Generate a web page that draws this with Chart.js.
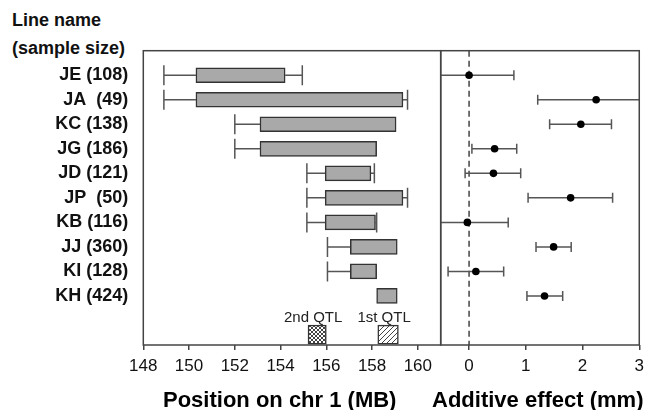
<!DOCTYPE html>
<html>
<head>
<meta charset="utf-8">
<script src="https://cdn.jsdelivr.net/npm/chart.js@4.4.0/dist/chart.umd.min.js"></script>
<style>
body{margin:0;background:#fff;}
#wrap{position:relative;width:650px;height:410px;overflow:hidden;font-family:"Liberation Sans",Arial,sans-serif;color:#111;}
.head{position:absolute;left:12px;font-weight:bold;font-size:18px;white-space:nowrap;}
.axtitle{position:absolute;top:387px;font-weight:bold;font-size:22px;white-space:nowrap;color:#000;}
canvas{position:absolute;top:0;}
</style>
</head>
<body>
<div id="wrap">
  <div class="head" style="top:10px">Line name</div>
  <div class="head" style="top:38px">(sample size)</div>
  <canvas id="posChart" width="442" height="410" style="left:0"></canvas>
  <canvas id="effChart" width="230" height="410" style="left:420px"></canvas>
  <div class="axtitle" style="left:163px">Position on chr 1 (MB)</div>
  <div class="axtitle" style="left:432px">Additive effect (mm)</div>
</div>
<script>
"use strict";

// 系統名 (サンプル数)
const lineNames = ['JE (108)', 'JA  (49)', 'KC (138)', 'JG (186)', 'JD (121)', 'JP  (50)', 'KB (116)', 'JJ (360)', 'KI (128)', 'KH (424)'];

// 左: QTL 区間 (MB)
const whiskerLow  = [148.9, 148.9, 152.0, 152.0, 155.15, 155.15, 155.15, 156.05, 156.05, null];
const boxLow      = [150.3, 150.3, 153.1, 153.1, 155.95, 155.95, 155.95, 157.05, 157.05, 158.2];
const boxHigh     = [154.2, 159.35, 159.05, 158.2, 157.95, 159.35, 158.15, 159.1, 158.2, 159.1];
const whiskerHigh = [154.95, 159.55, null, null, 158.1, 159.55, 158.2, null, null, null];

const qtlNames = ['2nd QTL', '1st QTL'];
const qtlLow   = [155.2, 158.25];
const qtlHigh  = [156.0, 159.15];

const posTicks = [148, 150, 152, 154, 156, 158, 160];

// 右: 相加効果 (mm)
const effect     = [0.0, 2.24, 1.97, 0.45, 0.43, 1.79, -0.03, 1.49, 0.12, 1.33];
const effectLow  = [-0.79, 1.21, 1.42, 0.05, -0.07, 1.04, -0.75, 1.18, -0.37, 1.02];
const effectHigh = [0.79, 3.27, 2.51, 0.84, 0.91, 2.53, 0.69, 1.80, 0.61, 1.65];

const effTicks = [0, 1, 2, 3];

const rows = lineNames.map(function(n, i){ return i + 1; });
const qtlRow = 11.58;
const qtlLabelRow = 10.9;

Chart.defaults.font.family = "'Liberation Sans', Arial, sans-serif";
Chart.defaults.color = '#111';

// ハッチング
function makePattern(kind){
  const s = kind === 'cross' ? 4 : 5;
  const c = document.createElement('canvas');
  c.width = s; c.height = s;
  const g = c.getContext('2d');
  g.fillStyle = '#fff';
  g.fillRect(0, 0, s, s);
  g.strokeStyle = '#444';
  g.lineWidth = 1;
  g.beginPath();
  g.moveTo(0, s); g.lineTo(s, 0);
  g.moveTo(-1, 1); g.lineTo(1, -1);
  g.moveTo(s - 1, s + 1); g.lineTo(s + 1, s - 1);
  if (kind === 'cross') {
    g.moveTo(0, 0); g.lineTo(s, s);
    g.moveTo(-1, s - 1); g.lineTo(1, s + 1);
    g.moveTo(s - 1, -1); g.lineTo(s + 1, 1);
  }
  g.stroke();
  return g.createPattern(c, 'repeat');
}
const crossFill = makePattern('cross');
const hatchFill = makePattern('hatch');

// 枠線
const framePlugin = {
  id: 'frame',
  afterDraw(chart){
    const a = chart.chartArea, ctx = chart.ctx;
    ctx.save();
    ctx.strokeStyle = '#444';
    ctx.lineWidth = 1.5;
    ctx.strokeRect(a.left, a.top, a.right - a.left, a.bottom - a.top);
    ctx.restore();
  }
};

// 左のひげ
const whiskerPlugin = {
  id: 'whiskers',
  beforeDatasetsDraw(chart){
    const ctx = chart.ctx, x = chart.scales.x, y = chart.scales.y;
    ctx.save();
    ctx.strokeStyle = '#555';
    ctx.lineWidth = 1.5;
    rows.forEach(function(r, i){
      const py = y.getPixelForValue(r);
      [whiskerLow[i], whiskerHigh[i]].forEach(function(w, k){
        if (w == null) return;
        const px = x.getPixelForValue(w);
        const pb = x.getPixelForValue(k === 0 ? boxLow[i] : boxHigh[i]);
        ctx.beginPath();
        ctx.moveTo(px, py); ctx.lineTo(pb, py);
        ctx.moveTo(px, py - 10); ctx.lineTo(px, py + 10);
        ctx.stroke();
      });
    });
    ctx.restore();
  },
  afterDatasetsDraw(chart){
    const ctx = chart.ctx, x = chart.scales.x, y = chart.scales.y;
    ctx.save();
    ctx.fillStyle = '#222';
    ctx.font = "15px 'Liberation Sans', Arial, sans-serif";
    ctx.textAlign = 'center';
    ctx.textBaseline = 'middle';
    qtlNames.forEach(function(n, i){
      const px = x.getPixelForValue((qtlLow[i] + qtlHigh[i]) / 2) - 4;
      ctx.fillText(n, px, y.getPixelForValue(qtlLabelRow));
    });
    ctx.restore();
  }
};

// 右のエラーバー
const errorPlugin = {
  id: 'errorbars',
  beforeDatasetsDraw(chart){
    const ctx = chart.ctx, x = chart.scales.x, y = chart.scales.y, a = chart.chartArea;
    ctx.save();
    // 0 の破線
    ctx.strokeStyle = '#444';
    ctx.lineWidth = 1.5;
    ctx.setLineDash([6, 4]);
    ctx.beginPath();
    ctx.moveTo(x.getPixelForValue(0), a.top);
    ctx.lineTo(x.getPixelForValue(0), a.bottom);
    ctx.stroke();
    ctx.setLineDash([]);
    ctx.strokeStyle = '#555';
    rows.forEach(function(r, i){
      const py = y.getPixelForValue(r);
      const lo = x.getPixelForValue(effectLow[i]);
      const hi = x.getPixelForValue(effectHigh[i]);
      ctx.beginPath();
      ctx.moveTo(Math.max(lo, a.left), py);
      ctx.lineTo(Math.min(hi, a.right), py);
      if (lo >= a.left) { ctx.moveTo(lo, py - 5); ctx.lineTo(lo, py + 5); }
      if (hi <= a.right) { ctx.moveTo(hi, py - 5); ctx.lineTo(hi, py + 5); }
      ctx.stroke();
    });
    ctx.restore();
  }
};

function fixTicks(list){
  return function(scale){
    scale.ticks = list.map(function(v){ return {value: v}; });
  };
}

const xGrid = {display: true, drawOnChartArea: false, drawTicks: true, tickLength: 5, color: '#444', lineWidth: 1.5};

new Chart(document.getElementById('posChart'), {
  type: 'bar',
  data: {
    datasets: [{
      data: rows.map(function(r, i){ return {x: [boxLow[i], boxHigh[i]], y: r}; }),
      backgroundColor: '#a9a9a9',
      borderColor: '#333',
      borderWidth: 1.5,
      borderSkipped: false,
      barThickness: 15
    }, {
      data: qtlLow.map(function(v, i){ return {x: [v, qtlHigh[i]], y: qtlRow}; }),
      backgroundColor: [crossFill, hatchFill],
      borderColor: '#333',
      borderWidth: 1.5,
      borderSkipped: false,
      barThickness: 19
    }]
  },
  options: {
    indexAxis: 'y',
    responsive: false,
    animation: false,
    grouped: false,
    layout: {padding: {top: 50.7, right: 1.3, left: 0, bottom: 0}},
    plugins: {legend: {display: false}, tooltip: {enabled: false}},
    scales: {
      x: {
        type: 'linear', min: 148, max: 161,
        afterBuildTicks: fixTicks(posTicks),
        afterFit: function(s){ s.height = 65; },
        ticks: {font: {size: 17}, color: '#111', padding: 6, maxRotation: 0},
        grid: xGrid,
        border: {display: false}
      },
      y: {
        type: 'linear', min: 0, max: 12, reverse: true, offset: false,
        afterBuildTicks: fixTicks(rows),
        afterFit: function(s){ s.width = 143.3; },
        ticks: {
          autoSkip: false,
          font: {size: 18, weight: 'bold'},
          color: '#111',
          padding: 15,
          callback: function(v){ return lineNames[v - 1]; }
        },
        grid: {display: false, drawTicks: false, offset: false},
        border: {display: false}
      }
    }
  },
  plugins: [whiskerPlugin, framePlugin]
});

new Chart(document.getElementById('effChart'), {
  type: 'scatter',
  data: {
    datasets: [{
      data: rows.map(function(r, i){ return {x: effect[i], y: r}; }),
      backgroundColor: '#000',
      borderWidth: 0,
      pointRadius: 3.8
    }]
  },
  options: {
    responsive: false,
    animation: false,
    layout: {padding: {top: 50.7, right: 10, left: 20.7, bottom: 0}},
    plugins: {legend: {display: false}, tooltip: {enabled: false}},
    scales: {
      x: {
        type: 'linear', min: -0.5, max: 3,
        afterBuildTicks: fixTicks(effTicks),
        afterFit: function(s){ s.height = 65; },
        ticks: {font: {size: 17}, color: '#111', padding: 6, maxRotation: 0},
        grid: xGrid,
        border: {display: false}
      },
      y: {
        type: 'linear', min: 0, max: 12, reverse: true, display: false
      }
    }
  },
  plugins: [errorPlugin, framePlugin]
});
</script>
</body>
</html>
